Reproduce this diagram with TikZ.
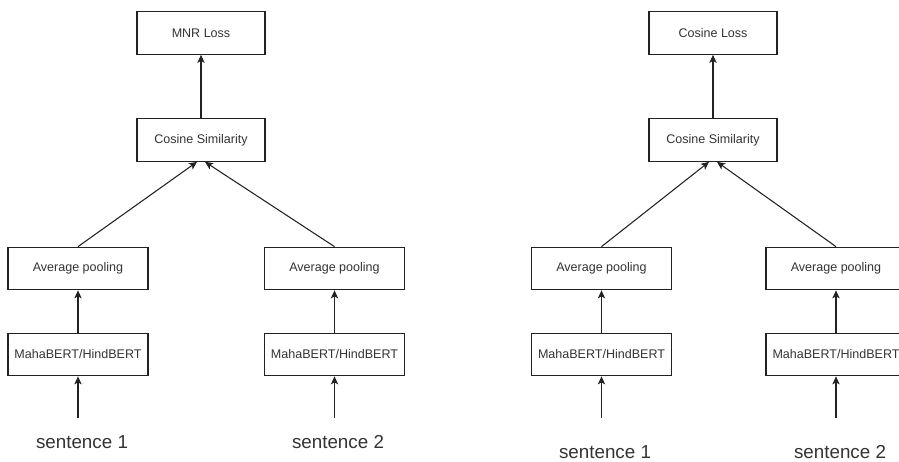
\documentclass[tikz,border=0pt]{standalone}
\usepackage{fontspec}
\setmainfont{Liberation Sans}
\usetikzlibrary{arrows.meta}
\definecolor{txt}{HTML}{333333}
\definecolor{ln}{HTML}{222222}
\begin{document}
\begin{tikzpicture}[x=0.75pt,y=-0.75pt,
  box/.style={draw=ln,line width=0.8pt,minimum width=#1,minimum height=32pt,inner sep=0pt,
    font=\fontsize{9.4}{11}\selectfont,text=txt},
  box/.default=96pt,
  sent/.style={inner sep=0pt,font=\fontsize{14.1}{16}\selectfont,text=txt},
  arr/.style={draw=ln,line width=0.8pt,-{Stealth[length=6pt,width=5.5pt,inset=1.5pt]}}]
\clip (0,0) rectangle (899,461);
% left diagram
\node[box] (loss1) at (201,33) {MNR Loss};
\node[box] (cs1) at (201,140) {Cosine Similarity};
\node[box=105pt] (ap1a) at (78,268.5) {Average pooling};
\node[box=105pt] (ap1b) at (334.5,268.5) {Average pooling};
\node[box=105pt] (mb1a) at (78,354.5) {MahaBERT/HindBERT};
\node[box=105pt] (mb1b) at (334.5,354.5) {MahaBERT/HindBERT};
\node[sent] (s1a) at (82,442) {sentence 1};
\node[sent] (s1b) at (338,442) {sentence 2};
\coordinate (i1a) at (78,418);
\coordinate (i1b) at (334.5,418);
\draw[arr] (cs1) -- (loss1);
\draw[arr] (ap1a.north) -- ([xshift=-3pt]cs1.south);
\draw[arr] (ap1b.north) -- ([xshift=3pt]cs1.south);
\draw[arr] (mb1a) -- (ap1a);
\draw[arr] (mb1b) -- (ap1b);
\draw[arr] (i1a) -- (mb1a);
\draw[arr] (i1b) -- (mb1b);
% right diagram
\node[box] (loss2) at (713,33) {Cosine Loss};
\node[box] (cs2) at (713,140) {Cosine Similarity};
\node[box=105pt] (ap2a) at (601.5,268.5) {Average pooling};
\node[box=105pt] (ap2b) at (836,268.5) {Average pooling};
\node[box=105pt] (mb2a) at (601.5,354.5) {MahaBERT/HindBERT};
\node[box=105pt] (mb2b) at (836,354.5) {MahaBERT/HindBERT};
\node[sent] (s2a) at (605,452) {sentence 1};
\node[sent] (s2b) at (840,452) {sentence 2};
\coordinate (i2a) at (601.5,418);
\coordinate (i2b) at (836,418);
\draw[arr] (cs2) -- (loss2);
\draw[arr] (ap2a.north) -- ([xshift=-3pt]cs2.south);
\draw[arr] (ap2b.north) -- ([xshift=3pt]cs2.south);
\draw[arr] (mb2a) -- (ap2a);
\draw[arr] (mb2b) -- (ap2b);
\draw[arr] (i2a) -- (mb2a);
\draw[arr] (i2b) -- (mb2b);
\end{tikzpicture}
\end{document}
